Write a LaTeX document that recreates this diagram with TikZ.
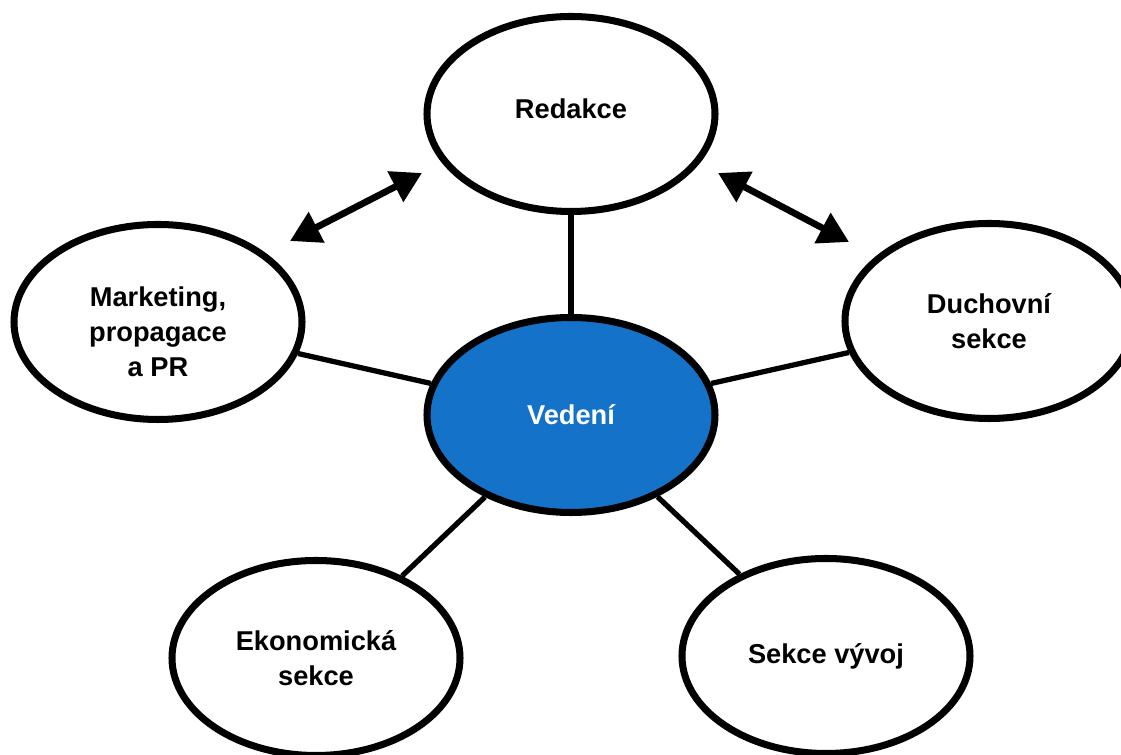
\documentclass[tikz,border=0pt]{standalone}
\usepackage{fontspec}
\setmainfont{Liberation Sans}
\usepackage{xcolor}
\usetikzlibrary{shapes.geometric,arrows.meta}
\definecolor{vedblue}{RGB}{20,115,201}

\begin{document}
\begin{tikzpicture}[
		unit/.style={ellipse, draw, line width=4pt, minimum width=5.76cm, minimum height=3.9cm,
			inner sep=0pt, align=center, font=\bfseries\fontsize{15.5}{19.9}\selectfont}]
		\useasboundingbox (0,0) rectangle (22.42,15.1);
		%
		\node[unit] (R) at (11.42,12.82) {Redakce\\[-14pt]\mbox{}};
		\node[unit, fill=vedblue, text=white] (V) at (11.42,6.80) {Vedení};
		\node[unit] (M) at (3.16,8.66) {\rule{0pt}{22.7pt}Marketing,\\propagace\\a PR};
		\node[unit] (D) at (19.78,8.68) {Duchovní\\sekce};
		\node[unit] (E) at (6.32,1.94) {Ekonomická\\sekce};
		\node[unit] (S) at (16.52,1.98) {Sekce vývoj};
		%
		\path[line width=3pt]
		(V) edge (R)
			edge (M)
			edge (D)
			edge (E)
			edge (S);
		%
		\coordinate (ml) at (5.80,10.28);
		\coordinate (mr) at (8.44,11.64);
		\coordinate (dl) at (14.36,11.64);
		\coordinate (dr) at (16.98,10.26);
		\draw[{Triangle[length=0.6cm,width=0.66cm]}-{Triangle[length=0.6cm,width=0.66cm]}, line width=3.8pt] (ml) -- (mr);
		\draw[{Triangle[length=0.6cm,width=0.66cm]}-{Triangle[length=0.6cm,width=0.66cm]}, line width=3.8pt] (dl) -- (dr);
	\end{tikzpicture}
\end{document}
